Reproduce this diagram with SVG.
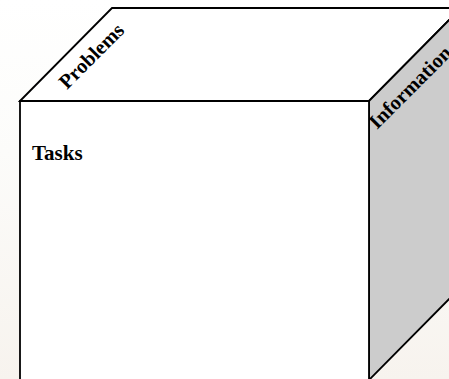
<svg xmlns="http://www.w3.org/2000/svg" width="449" height="379" viewBox="0 0 449 379">
  <defs>
    <linearGradient id="bg" x1="0" y1="0" x2="0" y2="1">
      <stop offset="0" stop-color="#ffffff"/>
      <stop offset="0.4" stop-color="#fcfcfa"/>
      <stop offset="1" stop-color="#f7f3ee"/>
    </linearGradient>
  </defs>
  <style>
    .face { stroke: #000; stroke-width: 1.8; stroke-linejoin: miter; }
    .label { font-family: "Liberation Serif", "Times New Roman", serif; font-weight: bold; font-size: 20.5px; fill: #000; }
  </style>

  <rect x="0" y="0" width="449" height="379" fill="url(#bg)"/>

  <!-- top face -->
  <g id="problems">
    <polygon class="face" points="20,101 112,8 461,8 369,101" fill="#ffffff"/>
    <text class="label" x="67" y="90" transform="rotate(-45 67 90)">Problems</text>
  </g>

  <!-- right face -->
  <g id="information">
    <polygon class="face" points="369,101 461,8 461,287 369,380" fill="#cccccc"/>
    <text class="label" x="377" y="130" transform="rotate(-45 377 130)">Information</text>
  </g>

  <!-- front face -->
  <g id="tasks">
    <polygon class="face" points="20,101 369,101 369,381 20,381" fill="#ffffff"/>
    <text class="label" x="32" y="159.5" style="font-size:21px">Tasks</text>
  </g>
</svg>
